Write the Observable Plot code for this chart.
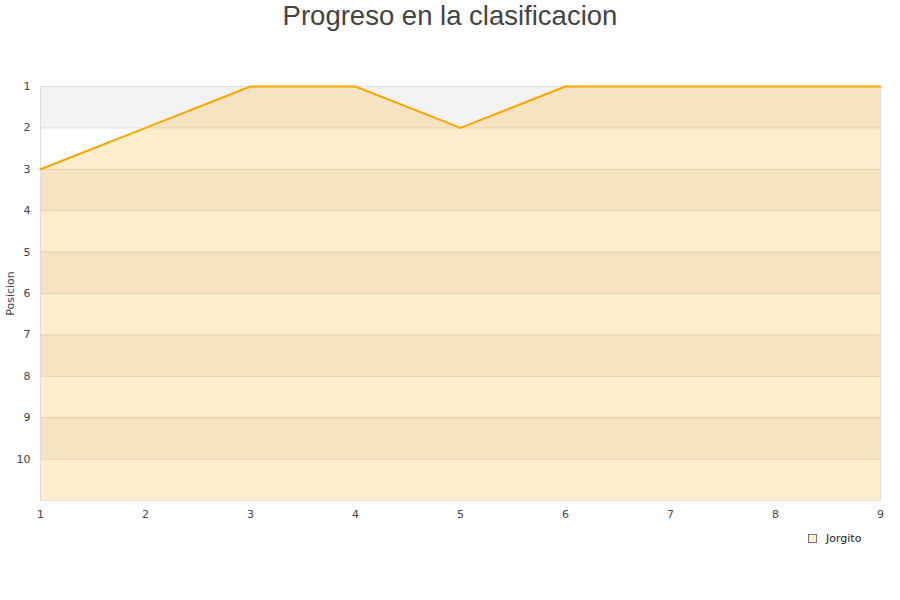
<!DOCTYPE html>
<html>
<head>
<meta charset="utf-8">
<script src="https://cdn.jsdelivr.net/npm/d3@7"></script>
<script src="https://cdn.jsdelivr.net/npm/@observablehq/plot@0.6"></script>
<style>
  body { margin: 0; background: #fff; width: 900px; height: 600px; position: relative; overflow: hidden; }
  #title { position: absolute; left: 0; top: 0; width: 900px; text-align: center; font-family: "Liberation Sans", Arial, sans-serif; font-size: 27.5px; color: #444; line-height: 32px; }
  #chart { position: absolute; left: 0; top: 40px; }
  #legend { position: absolute; left: 808px; top: 532px; font-family: "DejaVu Sans", sans-serif; font-size: 11px; color: #222; display: flex; align-items: center; }
  #legend .sw { width: 7px; height: 7px; border: 1px solid #777; background: #ffedcc; margin-right: 9px; }
</style>
</head>
<body>
<div id="title">Progreso en la clasificacion</div>
<div id="chart"></div>
<div id="legend"><span class="sw"></span><span>Jorgito</span></div>
<script>
const seriesName = "Jorgito";
const jornadas = [1, 2, 3, 4, 5, 6, 7, 8, 9];
const posiciones = [3, 2, 1, 1, 2, 1, 1, 1, 1];
const yTicks = [1, 2, 3, 4, 5, 6, 7, 8, 9, 10];
const bandStarts = [1, 3, 5, 7, 9];

const data = jornadas.map((j, i) => ({ jornada: j, pos: posiciones[i] }));
const bands = bandStarts.map(b => ({ y1: b, y2: b + 1 }));

const plot = Plot.plot({
  width: 900,
  height: 520,
  marginTop: 46,
  marginBottom: 60,
  marginLeft: 40,
  marginRight: 20,
  style: { fontFamily: "DejaVu Sans, sans-serif", fontSize: "11px", color: "#444", background: "transparent" },
  x: { domain: [1, 9], ticks: jornadas, tickSize: 0, tickPadding: 10, label: null, tickFormat: d => String(d) },
  y: { domain: [1, 11], reverse: true, ticks: yTicks, tickSize: 0, tickPadding: 10, label: "Posicion", labelAnchor: "center", labelArrow: "none", labelOffset: 34, tickFormat: d => String(d) },
  marks: [
    Plot.rectY(bands, { x1: 1, x2: 9, y1: "y1", y2: "y2", fill: "#f3f3f3" }),
    Plot.ruleY(yTicks, { stroke: "#dddddd" }),
    Plot.areaY(data, { x: "jornada", y1: 11, y2: "pos", fill: "#ffa500", fillOpacity: 0.2 }),
    Plot.frame({ stroke: "#dddddd" }),
    Plot.lineY(data, { x: "jornada", y: "pos", stroke: "#ffa500", strokeWidth: 2 })
  ]
});
document.getElementById("chart").appendChild(plot);
</script>
</body>
</html>
